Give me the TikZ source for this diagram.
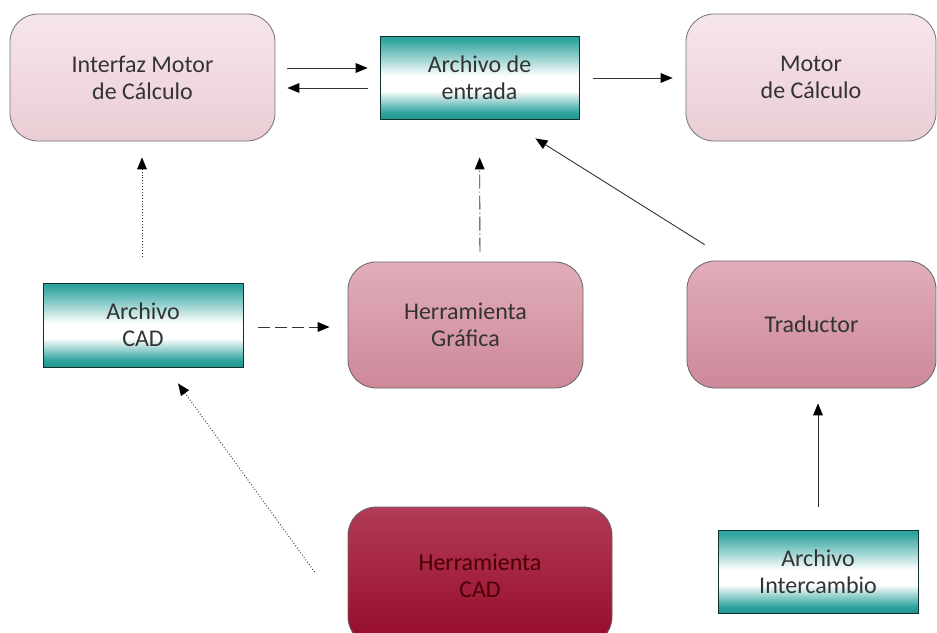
\documentclass[tikz,border=0pt]{standalone}
\usepackage{fontspec}
\setmainfont{Carlito}
\usetikzlibrary{arrows.meta}
\definecolor{pinkA}{HTML}{F6E6EA}
\definecolor{pinkB}{HTML}{EACDD4}
\definecolor{midA}{HTML}{E1ADB9}
\definecolor{midB}{HTML}{CD8899}
\definecolor{darkA}{HTML}{B23B57}
\definecolor{darkB}{HTML}{960A2A}
\definecolor{tealC}{HTML}{2FA39E}
\definecolor{tealD}{HTML}{24928D}
\definecolor{txtC}{HTML}{333333}
\definecolor{lineC}{HTML}{333333}
\pgfdeclareverticalshading{tealsh}{100bp}{color(0bp)=(tealD); color(25bp)=(tealD); color(29bp)=(tealC); color(42bp)=(white); color(51bp)=(white); color(73bp)=(tealC); color(75bp)=(tealC); color(100bp)=(tealC)}
\begin{document}
\begin{tikzpicture}[x=1pt,y=-1pt,
  basebox/.style={inner sep=0pt, align=center, text=txtC,
    font=\fontsize{24}{27}\selectfont},
  lightbox/.style={basebox, rounded corners=28pt, draw=black!55, line width=0.8pt,
    top color=pinkA, bottom color=pinkB},
  midbox/.style={basebox, rounded corners=28pt, draw=black!60, line width=0.8pt,
    top color=midA, bottom color=midB, text=black!80},
  darkbox/.style={basebox, rounded corners=28pt, draw=black!60, line width=0.8pt,
    top color=darkA, bottom color=darkB, text=black!70!red},
  filebox/.style={basebox, draw=black!70!tealC, line width=0.8pt,
    shading=tealsh},
  arr/.style={draw=lineC, line width=0.9pt,
    -{Triangle[length=12pt,width=10pt,fill=black,line width=0pt]}},
]
\clip (0,0) rectangle (937,632);
\fill[white] (0,0) rectangle (937,632);

\node[lightbox, minimum width=265pt, minimum height=127pt] (ifz) at (142.5,77.5) {Interfaz Motor\\de Cálculo};
\node[filebox, minimum width=199pt, minimum height=83pt] (ae) at (479.5,77.5) {Archivo de\\entrada};
\node[lightbox, minimum width=250pt, minimum height=127pt] (mot) at (811,77.5) {Motor\\de Cálculo};
\node[filebox, minimum width=200pt, minimum height=84pt] (cad) at (143,325) {Archivo\\CAD};
\node[midbox, minimum width=235pt, minimum height=126pt] (hg) at (465.5,325) {Herramienta\\Gráfica};
\node[midbox, minimum width=249pt, minimum height=127pt] (trad) at (811.5,324.5) {Traductor};
\node[darkbox, minimum width=264pt, minimum height=138pt] (hcad) at (480,576) {Herramienta\\CAD};
\node[filebox, minimum width=200pt, minimum height=83pt] (ai) at (818,571.5) {Archivo\\Intercambio};

% top row arrows
\draw[arr, shorten <=12pt, shorten >=12pt] ([yshift=9.5pt]ifz.east) -- ([yshift=9.5pt]ae.west);
\draw[arr, shorten <=12pt, shorten >=12pt] ([yshift=-10.5pt]ae.west) -- ([yshift=-10.5pt]ifz.east);
\draw[arr, shorten <=14pt, shorten >=13pt] ([yshift=-0.5pt]ae.east) -- ([yshift=-0.5pt]mot.west);

% Archivo CAD -> Interfaz (dotted)
\draw[arr, dotted, shorten <=26pt, shorten >=16pt] ([xshift=-1pt]cad.north) -- ([xshift=-0.5pt]ifz.south);
% Herramienta Grafica -> Archivo de entrada (dash-dot)
\draw[arr, dash pattern=on 14pt off 3pt on 1pt off 3pt, shorten <=10pt, shorten >=38pt] ([xshift=14.5pt]hg.north) -- (ae.south);
% Traductor -> Archivo de entrada
\draw[arr] ([shift={(18,-16)}]trad.north west) -- ([shift={(-44,19)}]ae.south east);
% Archivo CAD -> Herramienta Grafica (dashed)
\draw[arr, dash pattern=on 12pt off 5pt, shorten <=15pt, shorten >=18pt] ([yshift=-2pt]cad.east) -- ([yshift=-2pt]hg.west);
% Herramienta CAD -> Archivo CAD (dotted)
\draw[arr, dotted] ([shift={(-33,-4)}]hcad.west) -- ([shift={(35,16)}]cad.south);
% Archivo Intercambio -> Traductor
\draw[arr, shorten <=23pt, shorten >=15pt] (ai.north) -- (ai.north |- trad.south);
\end{tikzpicture}
\end{document}
